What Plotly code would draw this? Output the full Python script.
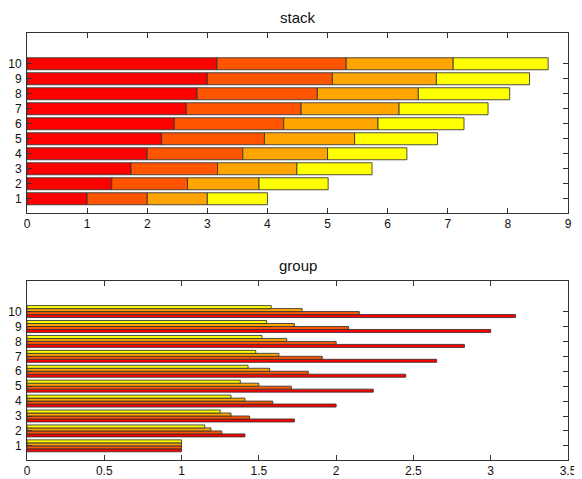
import plotly.graph_objects as go
import numpy as np

categories = [1, 2, 3, 4, 5, 6, 7, 8, 9, 10]
series_a = [1.00, 1.41, 1.73, 2.00, 2.24, 2.45, 2.65, 2.83, 3.00, 3.16]
series_b = [1.00, 1.26, 1.44, 1.59, 1.71, 1.82, 1.91, 2.00, 2.08, 2.15]
series_c = [1.00, 1.19, 1.32, 1.41, 1.50, 1.57, 1.63, 1.68, 1.73, 1.78]
series_d = [1.00, 1.15, 1.25, 1.32, 1.38, 1.43, 1.48, 1.52, 1.55, 1.58]
colors = ["#ff0000", "#ff5500", "#ffa500", "#ffff00"]
titles = ["stack", "group"]

series = [series_a, series_b, series_c, series_d]
fig = go.Figure()

line = dict(color="rgba(50,50,50,0.85)", width=1)

# stacked subplot (top)
base = np.zeros(len(categories))
for s, c in zip(series, colors):
    fig.add_trace(go.Bar(y=categories, x=s, base=base.copy(), orientation="h",
                         marker=dict(color=c, line=line), offsetgroup="stack",
                         xaxis="x", yaxis="y", showlegend=False))
    base = base + np.array(s)

# grouped subplot (bottom)
for i, (s, c) in enumerate(zip(series, colors)):
    fig.add_trace(go.Bar(y=categories, x=s, orientation="h",
                         marker=dict(color=c, line=line), offsetgroup=f"g{i}",
                         xaxis="x2", yaxis="y2", showlegend=False))

# page body has an 8px margin: figure is 574x471 placed at (8, 8)
W, HT = 574, 471
ML, MR, MT, MB = 19, 14, 25, 19
H = HT - MT - MB
axis_common = dict(showline=True, linecolor="#333", linewidth=1, mirror="ticks",
                   ticks="inside", ticklen=5, tickcolor="#333", showgrid=False,
                   zeroline=False, automargin=False,
                   tickfont=dict(size=12, color="#111"))

fig.update_layout(
    width=W, height=HT,
    margin=dict(l=ML, r=MR, t=MT, b=MB, autoexpand=False),
    paper_bgcolor="white", plot_bgcolor="white",
    font=dict(family="Liberation Sans, Arial, sans-serif", color="#111"),
    barmode="group", bargap=0.2, bargroupgap=0,
    xaxis=dict(domain=[0, 1], anchor="y", range=[0, 9], dtick=1, **axis_common),
    yaxis=dict(domain=[1 - 180 / H, 1], anchor="x", range=[0.05, 12.05],
               tickvals=categories, ticklabelstandoff=2, **axis_common),
    xaxis2=dict(domain=[0, 1], anchor="y2", range=[0, 3.5], dtick=0.5, **axis_common),
    yaxis2=dict(domain=[0, 179 / H], anchor="x2", range=[0.05, 12.05],
                tickvals=categories, ticklabelstandoff=2, **axis_common),
    annotations=[
        dict(text=titles[0], xref="paper", yref="paper", x=0.5, y=1 + 15 / H,
             showarrow=False, font=dict(size=15, color="#111"), yanchor="middle"),
        dict(text=titles[1], xref="paper", yref="paper", x=0.5, y=1 - (257 - 25) / H,
             showarrow=False, font=dict(size=15, color="#111"), yanchor="middle"),
    ],
)

fig.write_html("out.html")
